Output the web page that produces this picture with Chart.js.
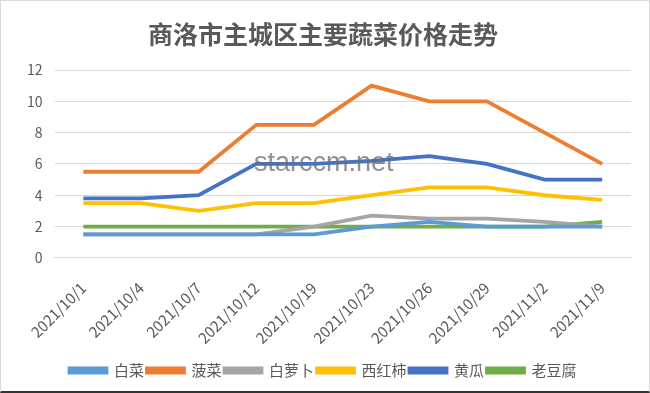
<!DOCTYPE html>
<html lang="zh">
<head>
<meta charset="UTF-8">
<title>商洛市主城区主要蔬菜价格走势</title>
<script src="https://cdn.jsdelivr.net/npm/chart.js"></script>
<style>
    html, body {
        margin: 0;
        padding: 0;
        background: #fff;
    }
    .wrap {
        position: relative;
        width: 648px;
        height: 390px;
        border: 1px solid #d9d9d9;
        border-bottom: 2px solid #333;
    }
    .mark {
        position: absolute;
        left: 253px;
        top: 146px;
        font-family: "Liberation Sans", Arial, sans-serif;
        font-size: 27px;
        color: rgba(110, 110, 110, 0.75);
        pointer-events: none;
    }
</style>
</head>
<body>
<div class="wrap">
    <canvas id="chart" width="648" height="390"></canvas>
    <div class="mark">starccm.net</div>
</div>
<script>
    const dates = ['2021/10/1', '2021/10/4', '2021/10/7', '2021/10/12', '2021/10/19',
        '2021/10/23', '2021/10/26', '2021/10/29', '2021/11/2', '2021/11/9'];

    const baicai = [1.5, 1.5, 1.5, 1.5, 1.5, 2, 2.3, 2, 2, 2];
    const bocai = [5.5, 5.5, 5.5, 8.5, 8.5, 11, 10, 10, 8, 6];
    const bailuobo = [1.5, 1.5, 1.5, 1.5, 2, 2.7, 2.5, 2.5, 2.3, 2];
    const xihongshi = [3.5, 3.5, 3, 3.5, 3.5, 4, 4.5, 4.5, 4, 3.7];
    const huanggua = [3.8, 3.8, 4, 6, 6, 6.2, 6.5, 6, 5, 5];
    const laodoufu = [2, 2, 2, 2, 2, 2, 2, 2, 2, 2.3];

    const series = [
        { name: '白菜', data: baicai, color: '#5b9bd5' },
        { name: '菠菜', data: bocai, color: '#ed7d31' },
        { name: '白萝卜', data: bailuobo, color: '#a5a5a5' },
        { name: '西红柿', data: xihongshi, color: '#ffc000' },
        { name: '黄瓜', data: huanggua, color: '#4472c4' },
        { name: '老豆腐', data: laodoufu, color: '#70ad47' }
    ];

    const font = '"Noto Sans CJK SC", "Liberation Sans", sans-serif';

    new Chart(document.getElementById('chart'), {
        type: 'line',
        data: {
            labels: dates,
            datasets: series.map(s => ({
                label: s.name,
                data: s.data,
                borderColor: s.color,
                backgroundColor: s.color,
                borderWidth: 3.8,
                pointRadius: 0,
                tension: 0,
                fill: false
            }))
        },
        options: {
            responsive: false,
            animation: false,
            layout: { padding: { left: 14, right: 18, top: 10, bottom: 3 } },
            plugins: {
                title: {
                    display: true,
                    text: '商洛市主城区主要蔬菜价格走势',
                    color: '#595959',
                    font: { family: font, size: 25, weight: 'bold' },
                    padding: { top: 8, bottom: 21 }
                },
                legend: {
                    position: 'bottom',
                    labels: {
                        boxWidth: 37,
                        boxHeight: 4,
                        padding: 3,
                        color: '#595959',
                        font: { family: font, size: 15 }
                    }
                },
                tooltip: { enabled: false }
            },
            scales: {
                x: {
                    offset: true,
                    grid: { display: false },
                    border: { color: '#d9d9d9' },
                    ticks: {
                        color: '#595959',
                        maxRotation: 45,
                        minRotation: 45,
                        padding: 13,
                        font: { family: font, size: 15 }
                    }
                },
                y: {
                    min: 0,
                    max: 12,
                    ticks: {
                        stepSize: 2,
                        color: '#595959',
                        padding: 12,
                        font: { family: font, size: 14 }
                    },
                    grid: { color: '#d9d9d9', drawTicks: false },
                    border: { display: false }
                }
            }
        }
    });
</script>
</body>
</html>
